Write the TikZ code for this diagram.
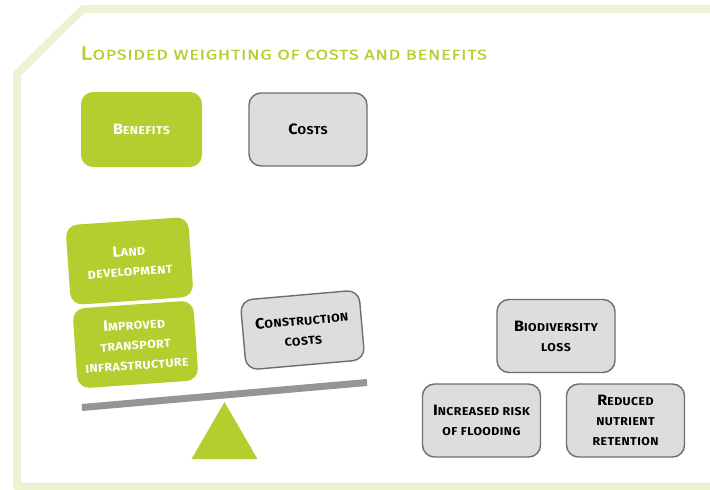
\documentclass[tikz,border=0pt]{standalone}
\usepackage{fontspec}
\setmainfont{Fira Sans}
\newfontfamily\titlefont[FakeStretch=1.3, LetterSpace=5, FakeBold=0.6]{Fira Sans}
\newfontfamily\boxfont[FakeStretch=1.08, LetterSpace=4]{Fira Sans}
\definecolor{framegreen}{RGB}{237,242,211}
\definecolor{leaf}{RGB}{181,206,47}
\definecolor{boxgray}{RGB}{220,221,223}
\definecolor{edgegray}{RGB}{109,110,113}
\definecolor{beamgray}{RGB}{147,149,152}
\newcommand\bigc[1]{{\fontsize{15}{20}\selectfont #1}}
\newcommand\titlec[1]{{\fontsize{19}{22}\selectfont #1}}
\tikzset{
  greenbox/.style={fill=leaf, rounded corners=12pt, text=white, align=center,
    minimum width=121pt, minimum height=75pt, inner sep=2pt,
    font=\boxfont\bfseries\fontsize{11.4}{20}\selectfont},
  graybox/.style={fill=boxgray, draw=edgegray, line width=1.4pt, rounded corners=12pt,
    text=black, align=center, minimum width=118pt, minimum height=73pt, inner sep=2pt,
    font=\boxfont\bfseries\fontsize{11.4}{20}\selectfont},
  titletext/.style={text=leaf, anchor=base west, inner sep=0pt,
    font=\titlefont\fontsize{14}{18}\selectfont}
}
\begin{document}
\begin{tikzpicture}[x=1pt,y=-1pt]
\useasboundingbox (0,0) rectangle (710,490);
% frame
\draw[framegreen, line width=8pt, line join=round]
  (712,9) -- (83,9) -- (17,74) -- (17,486.5) -- (712,486.5);
% title
\node[titletext] (title) at (80,59.5) {\titlec{L}OPSIDED WEIGHTING OF COSTS AND BENEFITS};
% top boxes
\node[greenbox] (benefits) at (141.5,129.5) {\bigc{B}ENEFITS};
\node[graybox] (costs) at (308,129.5) {\bigc{C}OSTS};
% tilted stack
\node[greenbox, rotate=4, minimum width=123pt, minimum height=80pt] (land) at (129.5,261) {\bigc{L}AND\\DEVELOPMENT};
\node[greenbox, rotate=4, minimum width=121pt, minimum height=80pt] (transport) at (135.5,344.5) {\bigc{I}MPROVED\\TRANSPORT\\INFRASTRUCTURE};
\node[graybox, rotate=5, minimum width=119pt, minimum height=70pt] (construction) at (302.5,330) {\bigc{C}ONSTRUCTION\\COSTS};
% beam and fulcrum
\coordinate (beamL) at (82,407.5);
\coordinate (beamR) at (367,382.5);
\draw[beamgray, line width=7pt] (beamL) -- (beamR);
\coordinate (apex) at (224.5,402);
\coordinate (baseR) at (257.5,459);
\coordinate (baseL) at (191.5,459);
\fill[leaf] (apex) -- (baseR) -- (baseL) -- cycle;
% right boxes
\node[graybox] (bio) at (556,336) {\bigc{B}IODIVERSITY\\LOSS};
\node[graybox] (flood) at (481.5,420.5) {\bigc{I}NCREASED RISK\\OF FLOODING};
\node[graybox] (nutrient) at (625.5,420.5) {\bigc{R}EDUCED\\NUTRIENT\\RETENTION};
\end{tikzpicture}
\end{document}
